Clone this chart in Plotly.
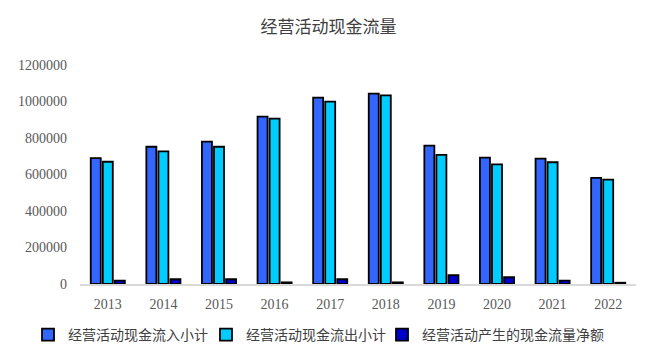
import plotly.graph_objects as go

years = ["2013", "2014", "2015", "2016", "2017", "2018", "2019", "2020", "2021", "2022"]
inflow = [690000, 752000, 780000, 917000, 1021000, 1043000, 758000, 692000, 687000, 582000]
outflow = [670000, 727000, 752000, 906000, 999000, 1034000, 708000, 656000, 667000, 572000]
net = [18000, 26000, 26000, 9000, 26000, 9000, 48000, 37000, 18000, 7000]

names = ["经营活动现金流入小计", "经营活动现金流出小计", "经营活动产生的现金流量净额"]
colors = ["#3366FF", "#00CCFF", "#0000CC"]
legend_ids = ["legend", "legend2", "legend3"]
legend_x = [-0.0935, 0.2266, 0.5432]

fig = go.Figure()
for name, vals, c, lg in zip(names, [inflow, outflow, net], colors, legend_ids):
    fig.add_trace(go.Bar(
        x=years, y=vals, name=name, legend=lg,
        marker=dict(color=c, line=dict(color="#000000", width=1.8)),
    ))

font_family = "Liberation Serif, Noto Sans CJK SC, serif"
legend_common = dict(orientation="h", xanchor="left", y=-0.233, yanchor="middle",
                     font=dict(family="Noto Sans CJK SC", size=14, color="#404040"),
                     itemwidth=30, bgcolor="rgba(0,0,0,0)")

fig.update_layout(
    width=657, height=362,
    margin=dict(l=80, r=21, t=65, b=78, autoexpand=False),
    paper_bgcolor="white", plot_bgcolor="white",
    barmode="group", bargap=0.35, bargroupgap=0.17,
    title=dict(text="经营活动现金流量", x=0.5, xanchor="center", y=0.924, yanchor="middle",
               font=dict(family="Noto Sans CJK SC", size=17, color="#404040")),
    font=dict(family=font_family, size=14, color="#595959"),
    showlegend=True,
    legend=dict(x=legend_x[0], **legend_common),
    legend2=dict(x=legend_x[1], **legend_common),
    legend3=dict(x=legend_x[2], **legend_common),
    xaxis=dict(showline=True, linecolor="#D9D9D9", linewidth=1.5, ticks="",
               showgrid=False, ticklabelstandoff=6,
               tickfont=dict(family=font_family, size=14, color="#595959")),
    yaxis=dict(range=[0, 1200000], tickvals=[0, 200000, 400000, 600000, 800000, 1000000, 1200000],
               tickformat="d", showgrid=False, zeroline=False, showline=False, ticks="",
               ticklabelstandoff=12,
               tickfont=dict(family=font_family, size=14, color="#595959")),
)

fig.write_html(
    "out.html",
    config={"displayModeBar": False},
    post_script="document.body.style.margin='0px';document.body.style.overflow='hidden';",
)
